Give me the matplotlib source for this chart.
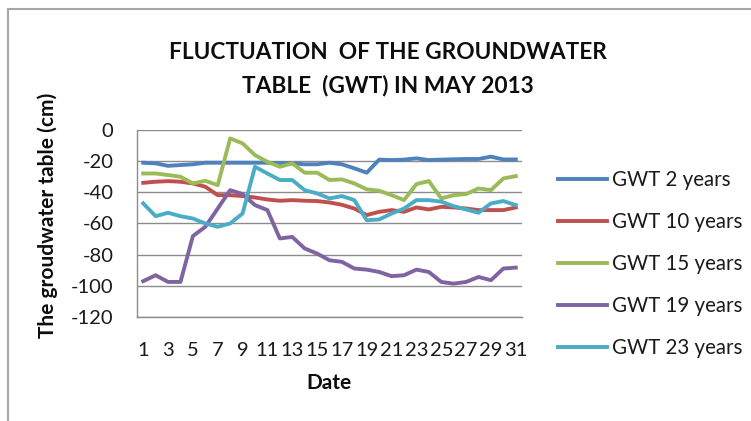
import numpy as np
import matplotlib
matplotlib.use('Agg')
from matplotlib import pyplot as plt
from matplotlib.lines import Line2D

plt.rcParams['font.family'] = ['Lato', 'DejaVu Sans']

# Data (groundwater table in cm, May 2013)
days = np.arange(1, 32)
gwt_2 = [-21, -21.4, -23, -22.5, -22, -21, -21, -21, -21, -21, -21, -21.4, -21.4, -22, -22,
         -21, -22, -24.6, -27.4, -19, -19.3, -19, -18.2, -19.3, -19, -18.8, -18.6, -18.6, -17.1, -18.9, -18.9]
gwt_10 = [-33.9, -33.2, -32.8, -33.2, -34.3, -36.4, -41.8, -41.8, -42.4, -43.3, -44.6, -45.4, -45, -45.4, -45.6,
          -46.5, -48, -50.4, -54.6, -52.5, -51.4, -52.5, -49.7, -51, -49.3, -49.7, -50.4, -51.4, -51.4, -51.4, -49.7]
gwt_15 = [-27.9, -27.9, -28.9, -30, -34.3, -32.6, -35.4, -5.4, -8.6, -16.1, -20.4, -23.6, -21.4, -27.4, -27.4,
          -32.1, -31.7, -34.3, -38.1, -39, -41.8, -45, -34.7, -32.8, -43.9, -41.8, -41.1, -37.5, -38.6, -31.1, -29.6]
gwt_19 = [-97, -93.2, -97.5, -97.5, -68.1, -62.1, -50.4, -38.6, -41.1, -48.2, -51.4, -69.6, -68.6, -76, -79.3,
          -83.6, -84.6, -88.9, -89.6, -91.1, -93.8, -93.2, -89.6, -91.1, -97.5, -98.6, -97.5, -94.3, -96.4, -88.9, -88.3]
gwt_23 = [-47.1, -55.3, -53.1, -55.3, -56.8, -60, -62.1, -60, -53.6, -23.6, -27.9, -32.1, -32.1, -38.6, -40.7,
          -43.9, -42.4, -45, -57.9, -57.4, -53.6, -50.4, -45, -45, -46, -48.9, -51, -53.1, -47.1, -45.6, -48.2]

series = [gwt_2, gwt_10, gwt_15, gwt_19, gwt_23]
labels = ['GWT 2 years', 'GWT 10 years', 'GWT 15 years', 'GWT 19 years', 'GWT 23 years']
colors = ['#4F81BD', '#C0504D', '#9BBB59', '#8064A2', '#4BACC6']
y_ticks = [0, -20, -40, -60, -80, -100, -120]

W, H = 751, 421
fig = plt.figure(figsize=(W / 100, H / 100), dpi=100)
ax = fig.add_axes([137 / W, 1 - 317 / H, (522 - 137) / W, (317 - 130) / H])

for vals, lab, col in zip(series, labels, colors):
    ax.plot(days, vals, color=col, lw=2.8, label=lab, solid_joinstyle='round')

ax.set_xlim(0.5, 31.5)
ax.set_ylim(-120, 0)
ax.set_yticks(y_ticks)
ax.set_yticklabels([str(v) for v in y_ticks])
ax.set_xticks(days[::2])
ax.set_xticklabels([str(d) for d in days[::2]])
ax.yaxis.grid(True, color='#8c8c8c', lw=1)
ax.set_axisbelow(True)
for s in ['top', 'right']:
    ax.spines[s].set_visible(False)
for s in ['left', 'bottom']:
    ax.spines[s].set_color('#8c8c8c')
    ax.spines[s].set_linewidth(1)
ax.tick_params(axis='y', length=0, pad=17, labelsize=14.5, labelcolor='#1a1a1a')
ax.tick_params(axis='x', length=0, pad=18, labelsize=14.5, labelcolor='#1a1a1a')

# titles and axis labels
fig.text(388 / W, 1 - 69 / H, 'FLUCTUATION  OF THE GROUNDWATER\nTABLE  (GWT) IN MAY 2013',
         ha='center', va='center', fontsize=16.3, fontweight='bold', linespacing=1.65, color='#0d0d0d')
fig.text(48 / W, 1 - 215 / H, 'The groudwater table (cm)', rotation=90, ha='center', va='center',
         fontsize=15, fontweight='bold', color='#0d0d0d')
fig.text(329 / W, 1 - 383 / H, 'Date', ha='center', va='center', fontsize=15,
         fontweight='bold', color='#0d0d0d')

leg = ax.legend(loc='center left', bbox_to_anchor=(558 / W, 1 - 264 / H),
                bbox_transform=fig.transFigure, frameon=False, fontsize=14.8,
                handlelength=2.4, handletextpad=0.25, labelspacing=1.07,
                borderpad=0, borderaxespad=0)
for t in leg.get_texts():
    t.set_color('#1a1a1a')

# outer chart border (top and left edges visible)
fig.add_artist(Line2D([8 / W, 8 / W], [0, 1 - 9 / H], transform=fig.transFigure, color='#a6a6a6', lw=1.5))
fig.add_artist(Line2D([8 / W, 1], [1 - 9 / H, 1 - 9 / H], transform=fig.transFigure, color='#a6a6a6', lw=1.5))

fig.savefig('out.png', dpi=100)
